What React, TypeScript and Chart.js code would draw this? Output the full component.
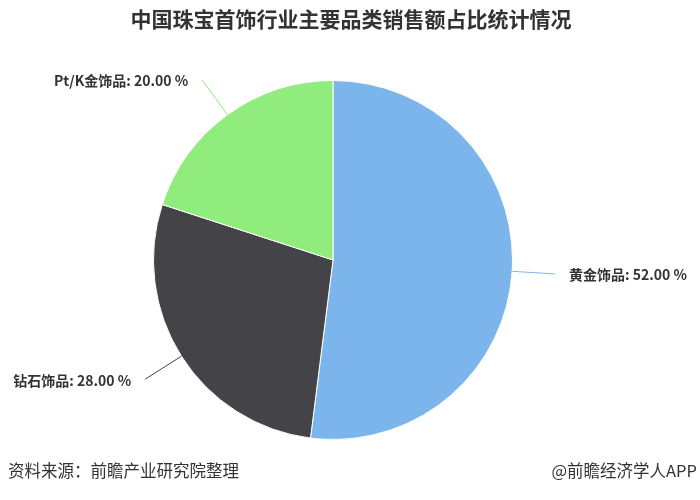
import React, { useEffect, useRef } from "react";
import { Chart, registerables } from "chart.js";

Chart.register(...registerables);

const categories = ["黄金饰品", "钻石饰品", "Pt/K金饰品"];
const shares = [52, 28, 20];
const sliceColors = ["#7cb5ec", "#434348", "#90ed7d"];
const titleText = "中国珠宝首饰行业主要品类销售额占比统计情况";
const sourceText = "资料来源：前瞻产业研究院整理";
const brandText = "@前瞻经济学人APP";

const labelPlugin = {
  id: "pieLabels",
  afterDatasetsDraw(chart: any) {
    const ctx = chart.ctx;
    const meta = chart.getDatasetMeta(0);
    ctx.save();
    meta.data.forEach((arc: any, i: number) => {
      const { x, y, startAngle, endAngle, outerRadius } = arc.getProps(
        ["x", "y", "startAngle", "endAngle", "outerRadius"],
        true
      );
      const mid = (startAngle + endAngle) / 2;
      const ux = Math.cos(mid);
      const uy = Math.sin(mid);
      const ex = x + ux * outerRadius;
      const ey = y + uy * outerRadius;
      const len = 43;
      const cx = ex + ux * len;
      const cy = ey + uy * len;
      ctx.strokeStyle = sliceColors[i];
      ctx.lineWidth = 1;
      ctx.beginPath();
      ctx.moveTo(ex, ey);
      ctx.lineTo(cx, cy);
      ctx.stroke();
      const right = ux >= 0;
      const text = `${categories[i]}: ${shares[i].toFixed(2)} %`;
      ctx.font = 'bold 14px "Noto Sans CJK SC", "Open Sans", sans-serif';
      ctx.fillStyle = "#333333";
      ctx.textBaseline = "middle";
      ctx.textAlign = right ? "left" : "right";
      ctx.fillText(text, cx + (right ? 14 : -14), cy + 1);
    });
    ctx.restore();
  },
};

export default function App() {
  const canvasRef = useRef<HTMLCanvasElement | null>(null);

  useEffect(() => {
    if (!canvasRef.current) return;
    const chart = new Chart(canvasRef.current, {
      type: "pie",
      data: {
        labels: categories,
        datasets: [
          {
            data: shares,
            backgroundColor: sliceColors,
            borderColor: "#ffffff",
            borderWidth: 1,
            hoverOffset: 0,
            offset: 0,
          },
        ],
      },
      options: {
        animation: false,
        responsive: false,
        maintainAspectRatio: false,
        layout: { padding: { left: 153, right: 187, top: 80, bottom: 60 } },
        plugins: {
          legend: { display: false },
          title: { display: false },
          tooltip: { enabled: false },
        },
      },
      plugins: [labelPlugin],
    });
    return () => chart.destroy();
  }, []);

  const font = '"Noto Sans CJK SC", "Microsoft YaHei", sans-serif';

  return (
    <div
      style={{
        position: "fixed",
        left: 0,
        top: 0,
        width: 700,
        height: 500,
        background: "#ffffff",
        fontFamily: font,
      }}
    >
      <canvas
        ref={canvasRef}
        width={700}
        height={500}
        style={{ position: "absolute", left: 0, top: 0, width: 700, height: 500 }}
      />
      <div
        style={{
          position: "absolute",
          left: 0,
          top: 5,
          width: 702,
          textAlign: "center",
          fontSize: 21,
          lineHeight: "26px",
          fontWeight: "bold",
          color: "#333333",
        }}
      >
        {titleText}
      </div>
      <div
        style={{
          position: "absolute",
          left: 8,
          top: 459,
          fontSize: 16.5,
          lineHeight: "22px",
          color: "#333333",
        }}
      >
        {sourceText}
      </div>
      <div
        style={{
          position: "absolute",
          right: 3,
          top: 459,
          fontSize: 16.5,
          lineHeight: "22px",
          color: "#333333",
        }}
      >
        {brandText}
      </div>
    </div>
  );
}
